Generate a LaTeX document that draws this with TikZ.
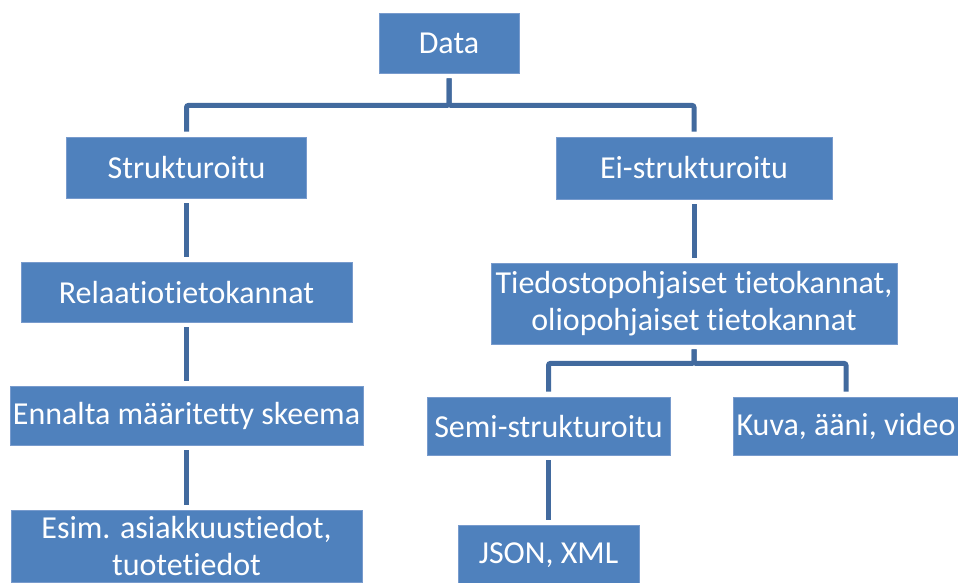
\documentclass[tikz,border=0pt]{standalone}
\usepackage{fontspec}
\setmainfont{Carlito}[Ligatures=NoCommon]
\definecolor{boxfill}{RGB}{79,129,189}
\definecolor{boxline}{RGB}{120,155,205}
\definecolor{conncol}{RGB}{66,106,158}
\begin{document}
\begin{tikzpicture}[x=1pt,y=-1pt,
  box/.style={rectangle, fill=boxfill, draw=boxline, line width=0.8pt, text=white,
    inner sep=0pt, align=center, font=\fontsize{32}{37}\selectfont},
  conn/.style={draw=conncol, line width=5pt, rounded corners=2pt, shorten <=5pt, shorten >=5pt}]
\useasboundingbox (0,0) rectangle (958,582);
\node[box, minimum width=140pt, minimum height=60pt] (data) at (449,43) {Data};
\node[box, minimum width=240pt, minimum height=61pt] (strukt) at (186.5,167.5) {Strukturoitu};
\node[box, minimum width=276pt, minimum height=62pt] (ei) at (694,168) {Ei-strukturoitu};
\node[box, minimum width=331pt, minimum height=60pt] (rel) at (186.5,292) {Relaatiotietokannat};
\node[box, minimum width=406pt, minimum height=81pt] (tied) at (694,303.5) {Tiedostopohjaiset tietokannat,\\oliopohjaiset tietokannat};
\node[box, minimum width=353pt, minimum height=59pt] (enn) at (186.5,415.5) {Ennalta määritetty skeema};
\node[box, minimum width=351pt, minimum height=72pt] (esim) at (186.5,546) {Esim. asiakkuustiedot,\\tuotetiedot};
\node[box, minimum width=243pt, minimum height=58pt] (semi) at (548.5,426) {Semi-strukturoitu};
\node[box, minimum width=226pt, minimum height=58pt] (kuva) at (846,426) {Kuva, ääni, video};
\node[box, minimum width=181pt, minimum height=60pt] (json) at (548.5,555) {JSON, XML};
\draw[conn] (data.south) -- ([yshift=-32pt]data.south) -| (strukt.north);
\draw[conn] (data.south) -- ([yshift=-32pt]data.south) -| (ei.north);
\draw[conn] (strukt) -- (rel);
\draw[conn] (ei) -- (tied);
\draw[conn] (rel) -- (enn);
\draw[conn] (enn) -- (esim);
\draw[conn] (tied.south) -- ([yshift=-19pt]tied.south) -| (semi.north);
\draw[conn] (tied.south) -- ([yshift=-19pt]tied.south) -| (kuva.north);
\draw[conn] (semi) -- (json);
\end{tikzpicture}
\end{document}
